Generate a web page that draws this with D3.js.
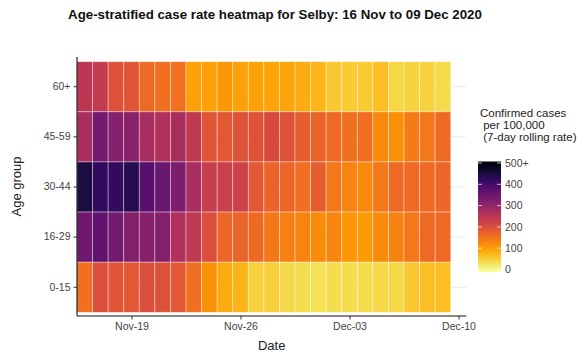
<!DOCTYPE html>
<html>
<head>
<meta charset="utf-8">
<script src="https://cdn.jsdelivr.net/npm/d3@7"></script>
<style>
  html, body { margin: 0; padding: 0; background: #fff; }
  svg { display: block; font-family: "Liberation Sans", Arial, sans-serif; }
</style>
</head>
<body>
<svg id="chart" width="585" height="356"></svg>
<script>
const dates = ["2020-11-16","2020-11-17","2020-11-18","2020-11-19","2020-11-20","2020-11-21","2020-11-22","2020-11-23",
  "2020-11-24","2020-11-25","2020-11-26","2020-11-27","2020-11-28","2020-11-29","2020-11-30","2020-12-01",
  "2020-12-02","2020-12-03","2020-12-04","2020-12-05","2020-12-06","2020-12-07","2020-12-08","2020-12-09"];
const ageGroups = ["60+", "45-59", "30-44", "16-29", "0-15"];
const rate60plus = [250, 240, 200, 195, 165, 160, 158, 105, 105, 115, 105, 105, 100, 100, 92, 85, 65, 62, 62, 75, 50, 53, 53, 45];
const rate45to59 = [275, 340, 315, 312, 275, 265, 272, 245, 195, 190, 198, 198, 210, 198, 180, 175, 165, 160, 160, 130, 122, 145, 150, 165];
const rate30to44 = [445, 415, 415, 430, 375, 350, 330, 275, 235, 230, 225, 190, 175, 170, 160, 180, 150, 135, 130, 150, 165, 165, 165, 170];
const rate16to29 = [345, 365, 340, 320, 315, 320, 265, 245, 205, 170, 172, 165, 150, 140, 135, 128, 133, 115, 110, 130, 138, 150, 165, 165];
const rate0to15 = [160, 205, 195, 190, 205, 200, 190, 160, 120, 95, 85, 55, 57, 48, 44, 40, 44, 44, 43, 47, 47, 65, 75, 75];
const seriesByGroup = { "60+": rate60plus, "45-59": rate45to59, "30-44": rate30to44, "16-29": rate16to29, "0-15": rate0to15 };
const xTickDates = ["2020-11-19", "2020-11-26", "2020-12-03", "2020-12-10"];
const legendTicks = [0, 100, 200, 300, 400, 500];
const legendMax = 500;

const parse = d3.utcParse("%Y-%m-%d");
const svg = d3.select("#chart");
const DAY = 864e5;

const x = d3.scaleUtc()
  .domain([new Date(parse("2020-11-16").getTime() - DAY / 2), new Date(parse("2020-12-10").getTime() + DAY / 2)])
  .range([77, 466.3]);
const y = d3.scaleBand().domain(ageGroups).range([61.7, 312.3]).padding(0);
const color = v => d3.interpolateInferno(1 - Math.max(0, Math.min(legendMax, v)) / legendMax);

const panelTop = 57, panelBottom = 316, panelLeft = 77, panelRight = 466.3;

// gridlines
svg.append("g").selectAll("line").data(ageGroups).join("line")
  .attr("x1", panelLeft).attr("x2", panelRight)
  .attr("y1", d => y(d) + y.bandwidth() / 2).attr("y2", d => y(d) + y.bandwidth() / 2)
  .attr("stroke", "#ebebeb").attr("stroke-width", 1);

// tiles
const cells = [];
ageGroups.forEach(g => seriesByGroup[g].forEach((v, i) => cells.push({ g, date: parse(dates[i]), v })));
svg.append("g").selectAll("rect").data(cells).join("rect")
  .attr("x", d => x(new Date(d.date.getTime() - DAY / 2)))
  .attr("width", d => x(new Date(d.date.getTime() + DAY / 2)) - x(new Date(d.date.getTime() - DAY / 2)))
  .attr("y", d => y(d.g))
  .attr("height", y.bandwidth())
  .attr("fill", d => color(d.v))
  .attr("stroke", "#fff").attr("stroke-opacity", 0.45).attr("stroke-width", 0.8);

// axes
const xAxis = d3.axisBottom(x)
  .tickValues(xTickDates.map(parse))
  .tickFormat(d3.utcFormat("%b-%d"))
  .tickSize(3.5).tickPadding(3);
const gx = svg.append("g").attr("transform", `translate(0,${panelBottom})`).call(xAxis);
gx.select(".domain").remove();
gx.selectAll(".tick line").attr("stroke", "#333");
gx.selectAll(".tick text").attr("fill", "#444").style("font-size", "10.5px");

const yAxis = d3.axisLeft(y).tickSize(3.5).tickPadding(3);
const gy = svg.append("g").attr("transform", `translate(${panelLeft},0)`).call(yAxis);
gy.select(".domain").remove();
gy.selectAll(".tick line").attr("stroke", "#333");
gy.selectAll(".tick text").attr("fill", "#444").style("font-size", "10.5px");

svg.append("line").attr("x1", panelLeft).attr("x2", panelLeft).attr("y1", panelTop).attr("y2", panelBottom)
  .attr("stroke", "#111").attr("stroke-width", 1.1);
svg.append("line").attr("x1", panelLeft).attr("x2", panelRight).attr("y1", panelBottom).attr("y2", panelBottom)
  .attr("stroke", "#111").attr("stroke-width", 1.1);

// titles
svg.append("text").attr("x", 275).attr("y", 19).attr("text-anchor", "middle")
  .style("font-size", "13.3px").style("font-weight", "bold").attr("fill", "#111")
  .text("Age-stratified case rate heatmap for Selby: 16 Nov to 09 Dec 2020");
svg.append("text").attr("x", (panelLeft + panelRight) / 2).attr("y", 350).attr("text-anchor", "middle")
  .style("font-size", "13px").attr("fill", "#222").text("Date");
svg.append("text").attr("transform", `translate(21,${(panelTop + panelBottom) / 2}) rotate(-90)`)
  .attr("text-anchor", "middle").style("font-size", "13px").attr("fill", "#222").text("Age group");

// legend
const legendTitle = ["Confirmed cases", " per 100,000", " (7-day rolling rate)"];
svg.append("g").selectAll("text").data(legendTitle).join("text")
  .attr("x", 480).attr("y", (d, i) => 116.5 + i * 12)
  .style("font-size", "11.5px").attr("fill", "#222").attr("xml:space", "preserve")
  .text(d => d);

const ly = d3.scaleLinear().domain([0, legendMax]).range([269.5, 163]);
const defs = svg.append("defs");
const grad = defs.append("linearGradient").attr("id", "lg").attr("x1", 0).attr("x2", 0).attr("y1", 1).attr("y2", 0);
d3.range(0, 1.0001, 0.05).forEach(t => grad.append("stop").attr("offset", t).attr("stop-color", color(t * legendMax)));
const barX = 478, barW = 23, barTop = 161.5, barBottom = 272;
svg.append("rect").attr("x", barX).attr("y", barTop).attr("width", barW).attr("height", barBottom - barTop)
  .attr("fill", "url(#lg)");
const lt = svg.append("g");
legendTicks.forEach(v => {
  lt.append("line").attr("x1", barX).attr("x2", barX + 4).attr("y1", ly(v)).attr("y2", ly(v)).attr("stroke", "#fff").attr("stroke-opacity", 0.7);
  lt.append("line").attr("x1", barX + barW - 4).attr("x2", barX + barW).attr("y1", ly(v)).attr("y2", ly(v)).attr("stroke", "#fff").attr("stroke-opacity", 0.7);
  lt.append("text").attr("x", 505).attr("y", ly(v)).attr("dy", "0.35em")
    .style("font-size", "10.5px").attr("fill", "#444").text(v === legendMax ? v + "+" : v);
});
</script>
</body>
</html>
